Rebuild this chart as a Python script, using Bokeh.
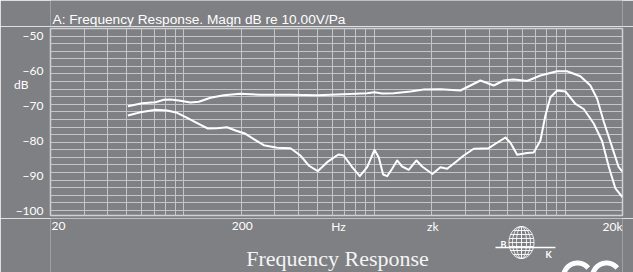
import numpy as np
from bokeh.plotting import figure
from bokeh.layouts import column
from bokeh.models import Range1d, FixedTicker, Grid
from bokeh.core.properties import value
from bokeh.embed import file_html
from bokeh.resources import INLINE

# ---------------- data ----------------
upper_freq = [50.9, 60.5, 71.1, 78.6, 85.2, 94.2, 108.5, 119.9, 138, 162, 198, 252, 363,
              501, 690, 916, 1000, 1098, 1263, 1545, 1814, 2218, 2825, 3188, 3596, 4224,
              4765, 5378, 6320, 7422, 9080, 10246, 12028, 13572, 14720, 15940, 17640,
              19104, 19976]
upper_db = [-70.2, -69.34, -69.06, -68.37, -68.29, -68.57, -69.14, -68.94, -67.8, -67.06,
            -66.66, -66.94, -66.91, -67.06, -66.77, -66.49, -66.2, -66.57, -66.49, -66.0,
            -65.43, -65.34, -65.71, -64.29, -62.86, -64.29, -62.86, -62.57, -63.0, -61.43,
            -60.2, -60.2, -61.63, -64.29, -68.09, -74.57, -81.91, -87.63, -88.86]

lower_freq = [50.9, 59.3, 71.1, 81.8, 92.3, 104.2, 117.6, 133.6, 149.7, 168.9, 186.7, 210.7,
              233, 262.8, 309, 363, 409, 452, 504, 565, 647, 690, 764, 838, 916, 1000, 1053,
              1111, 1166, 1238, 1315, 1397, 1513, 1661, 1779, 2014, 2218, 2405, 2660, 2940,
              3318, 3976, 4312, 4864, 5168, 5604, 6320, 6844, 7422, 7882, 8376, 9080, 10040,
              11324, 12520, 14126, 15632, 16930, 18360, 19976]
lower_db = [-72.86, -71.91, -71.23, -71.43, -72.09, -73.51, -75.06, -76.57, -76.49, -76.2,
            -77.14, -78.09, -79.63, -81.34, -82.09, -82.2, -84.29, -87.14, -88.77, -86.2,
            -84.0, -84.29, -87.63, -90.2, -87.63, -82.66, -84.77, -89.71, -90.2, -88.09,
            -85.71, -87.43, -88.37, -85.71, -87.43, -89.57, -87.63, -88.09, -86.2, -84.29,
            -82.37, -82.2, -80.94, -79.14, -80.66, -84.09, -83.57, -83.43, -80.0, -72.86,
            -67.63, -65.71, -66.0, -69.51, -71.0, -75.14, -80.14, -87.43, -93.71, -96.2]

y_ticks = [-50, -60, -70, -80, -90, -100]
y_unit_tick = -64          # where the "dB" unit label sits on the left axis
y_unit_label = "dB"
x_tick_vals = [20, 200, 640, 2000, 20000]
x_tick_labels = ["20", "200", "Hz", "zk", "20k"]
x_grid_vals = [20, 30, 40, 50, 60, 70, 80, 90, 100, 200, 300, 400, 500, 600, 700, 800, 900,
               1000, 2000, 3000, 4000, 5000, 6000, 7000, 8000, 9000, 10000, 20000]

title_text = "A: Frequency Response. Magn dB re 10.00V/Pa"
caption_text = "Frequency Response"

# ---------------- styling ----------------
BG = "#7f8084"
GRID = "#c4c5c7"
WHITE = "#ffffff"
W = 633
Y_START, Y_END = -101.43, -48.0
BORDER_L, BORDER_R = 50, 11


def fx(px):
    """page x pixel -> frequency on the shared log scale (20 Hz at x=50, 20 kHz at x=622)"""
    return 20 * 10 ** ((px - 50) / 190.67)


def strip(height):
    fig = figure(width=W, height=height, title=None, x_axis_type="log",
                 x_range=Range1d(20, 20000), y_range=Range1d(height, 0),
                 x_axis_location=None, y_axis_location=None, output_backend="svg",
                 toolbar_location=None, min_border_left=BORDER_L,
                 min_border_right=BORDER_R, min_border_top=0, min_border_bottom=0,
                 background_fill_color=BG, border_fill_color=BG, outline_line_color=None)
    for g in fig.grid:
        g.visible = False
    return fig


# ---------------- header (title) ----------------
H_HEAD = 26
head = strip(H_HEAD)
head.text(x=[fx(52)], y=[19.0], text=[title_text], text_color=WHITE,
          text_font=value("Liberation Sans"), text_font_size="13.7px",
          text_baseline="alphabetic", text_align="left")

# ---------------- main chart ----------------
H_MAIN = 192
p = figure(width=W, height=H_MAIN, title=None, x_axis_type="log", x_axis_location=None,
           x_range=Range1d(20, 20000), y_range=Range1d(Y_START, Y_END),
           output_backend="svg", toolbar_location=None,
           min_border_left=BORDER_L, min_border_right=BORDER_R,
           min_border_top=2, min_border_bottom=3,
           background_fill_color=BG, border_fill_color=BG,
           outline_line_color="#cfd0d2", outline_line_width=1.5)
for g in p.grid:
    g.visible = False
p.add_layout(Grid(dimension=0, ticker=FixedTicker(ticks=x_grid_vals),
                  grid_line_color=GRID, grid_line_width=1))
p.add_layout(Grid(dimension=1, ticker=FixedTicker(ticks=list(np.linspace(-48, -100, 25))),
                  grid_line_color=GRID, grid_line_width=1))

ax = p.yaxis[0]
ax.ticker = FixedTicker(ticks=y_ticks + [y_unit_tick])
ax.major_label_overrides = {y_unit_tick: y_unit_label + "\u2003\u2002"}
ax.axis_line_color = None
ax.major_tick_line_color = None
ax.minor_tick_line_color = None
ax.major_tick_out = 0
ax.major_label_standoff = 7
ax.major_label_text_color = WHITE
ax.major_label_text_font = "Lato"
ax.major_label_text_font_size = "12px"

p.line(upper_freq, upper_db, line_color=WHITE, line_width=2, line_join="round")
p.line(lower_freq, lower_db, line_color=WHITE, line_width=2, line_join="round")

# ---------------- footer (x tick labels, caption, logos) ----------------
H_FOOT = 272 - H_HEAD - H_MAIN
foot = strip(H_FOOT)
tick_font = dict(text_color=WHITE, text_font=value("Lato"), text_font_size="12px",
                 text_baseline="alphabetic")
TICK_Y = 7.6
foot.text(x=x_tick_vals[:1], y=[TICK_Y], text=x_tick_labels[:1], text_align="left",
          x_offset=1, **tick_font)
foot.text(x=x_tick_vals[1:-1], y=[TICK_Y] * 3, text=x_tick_labels[1:-1],
          text_align="center", x_offset=1, **tick_font)
foot.text(x=x_tick_vals[-1:], y=[TICK_Y], text=x_tick_labels[-1:], text_align="right",
          x_offset=0, **tick_font)

foot.text(x=[fx(337)], y=[40.0], text=[caption_text], text_color="#f4f4f4",
          text_font=value("Liberation Serif"), text_font_size="22px",
          text_baseline="alphabetic", text_align="center")

# B&K globe logo (page centre x=521, footer y=24)
gcx, gcy, grx, gry = 521, 24, 12.5, 16
t = np.linspace(0, 2 * np.pi, 72)
lx, ly = [], []
for k in [1.0, 0.72, 0.4]:
    lx.append([fx(gcx + k * grx * np.cos(a)) for a in t])
    ly.append([gcy + gry * np.sin(a) for a in t])
lx.append([fx(gcx), fx(gcx)])
ly.append([gcy - gry, gcy + gry])
for dy in [-12, -8, -4, 0, 4, 8, 12]:
    hw = grx * np.sqrt(1 - (dy / gry) ** 2)
    lx.append([fx(gcx - hw), fx(gcx + hw)])
    ly.append([gcy + dy, gcy + dy])
foot.multi_line(xs=lx, ys=ly, line_color=WHITE, line_width=0.9)
foot.line(x=[fx(495), fx(555)], y=[29, 29], line_color=WHITE, line_width=1.6)
foot.text(x=[fx(503)], y=[25.5], text=["B"], text_color=WHITE, text_font=value("Lato"),
          text_font_size="9px", text_font_style="bold", text_align="center",
          text_baseline="alphabetic")
foot.text(x=[fx(548)], y=[35.5], text=["K"], text_color=WHITE, text_font=value("Lato"),
          text_font_size="9px", text_font_style="bold", text_align="center",
          text_baseline="alphabetic")

# CE mark, only its top edge is visible at the bottom right
for ccx in [577, 606]:
    th = np.radians(np.linspace(40, 180, 40))
    foot.line(x=[fx(ccx + 14 * np.cos(a)) for a in th],
              y=[58.5 - 14 * np.sin(a) for a in th],
              line_color=WHITE, line_width=5)

layout = column(head, p, foot, spacing=0)
open("out.html", "w").write(file_html(layout, INLINE))
